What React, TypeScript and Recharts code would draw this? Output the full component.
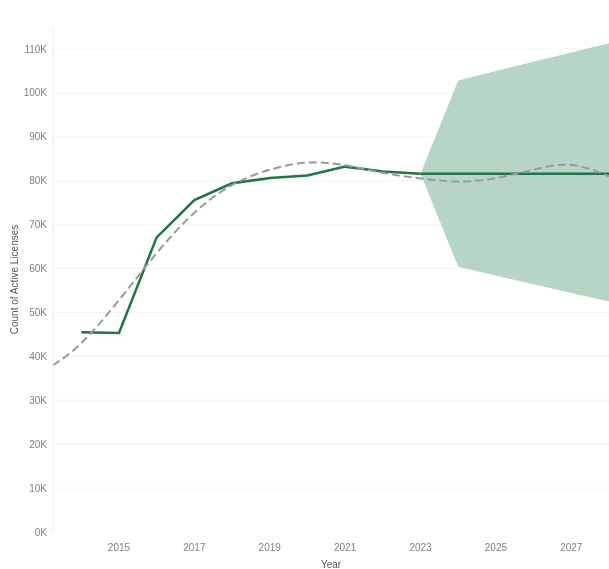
import { ComposedChart, Line, Area, XAxis, YAxis, CartesianGrid } from 'recharts';

// values in thousands of active licences
const historyYears = [2014, 2015, 2016, 2017, 2018, 2019, 2020, 2021, 2022, 2023];
const historyValues = [45.5, 45.3, 67.1, 75.6, 79.4, 80.6, 81.2, 83.2, 82.1, 81.6];

const forecastYears = [2023, 2024, 2025, 2026, 2027, 2028];
const forecastValues = [81.6, 81.6, 81.6, 81.6, 81.6, 81.6];
const forecastLow = [81.6, 60.4, 58.4, 56.4, 54.4, 52.5];
const forecastHigh = [81.6, 102.8, 105.0, 107.1, 109.2, 111.3];

const trendYears = [2013.25, 2014, 2015, 2016, 2017, 2018, 2019, 2020, 2021, 2022, 2023, 2024, 2025, 2026, 2027, 2028];
const trendValues = [38.0, 43.0, 52.8, 63.5, 72.7, 79.0, 82.5, 84.1, 83.5, 81.8, 80.5, 79.8, 80.6, 82.5, 83.6, 81.0];

const yearTicks = [2015, 2017, 2019, 2021, 2023, 2025, 2027];
const valueTicks = [0, 10, 20, 30, 40, 50, 60, 70, 80, 90, 100, 110];

const FONT = '"Liberation Sans", Arial, sans-serif';
const GREEN = '#1f7548';

type Row = { year: number; actual?: number; forecast?: number; band?: [number, number]; trend?: number };

const buildRows = (): Row[] => {
  const byYear = new Map<number, Row>();
  const row = (y: number) => {
    if (!byYear.has(y)) byYear.set(y, { year: y });
    return byYear.get(y)!;
  };
  trendYears.forEach((y, i) => { row(y).trend = trendValues[i]; });
  historyYears.forEach((y, i) => { row(y).actual = historyValues[i]; });
  forecastYears.forEach((y, i) => {
    const r = row(y);
    r.forecast = forecastValues[i];
    r.band = [forecastLow[i], forecastHigh[i]];
  });
  return Array.from(byYear.values()).sort((a, b) => a.year - b.year);
};

const rows = buildRows();

export default function App() {
  // fixed so the chart can run flush to the window edges without scrollbars
  return (
    <div style={{ position: 'fixed', left: 8, top: 8, width: 601, height: 561 }}>
      <ComposedChart width={601} height={561} data={rows} margin={{ top: 19, right: 0, bottom: 0, left: 0 }}>
        <CartesianGrid vertical={false} horizontalValues={valueTicks.slice(1)} stroke="#f4f4f4" />
        <XAxis
          dataKey="year"
          type="number"
          domain={[2013.25, 2028]}
          ticks={yearTicks}
          allowDataOverflow
          axisLine={false}
          tickLine={false}
          tickSize={0}
          tickMargin={12}
          height={37}
          tick={{ fill: '#7f7f7f', fontSize: 10, fontFamily: FONT }}
          label={{ value: 'Year', position: 'insideBottom', offset: 1, fill: '#595959', fontSize: 10, fontFamily: FONT }}
        />
        <YAxis
          type="number"
          domain={[0, 115]}
          ticks={valueTicks}
          tickFormatter={(v: number) => `${v}K`}
          width={45}
          axisLine={{ stroke: '#eeeeee' }}
          tickLine={false}
          tickSize={0}
          tickMargin={6}
          tick={{ fill: '#7f7f7f', fontSize: 10, fontFamily: FONT }}
          label={{
            value: 'Count of Active Licenses',
            angle: -90,
            position: 'insideLeft',
            offset: 6,
            fill: '#595959',
            fontSize: 10,
            fontFamily: FONT,
            style: { textAnchor: 'middle' },
          }}
        />
        <Area dataKey="band" type="linear" stroke="none" fill="#b7d5c5" fillOpacity={1} isAnimationActive={false} />
        <Line dataKey="actual" type="linear" stroke={GREEN} strokeWidth={2.5} dot={false} isAnimationActive={false} />
        <Line dataKey="forecast" type="linear" stroke={GREEN} strokeWidth={2.5} dot={false} isAnimationActive={false} />
        <Line
          dataKey="trend"
          type="natural"
          stroke="#9a9a9a"
          strokeWidth={2}
          strokeDasharray="8 4"
          dot={false}
          isAnimationActive={false}
        />
      </ComposedChart>
    </div>
  );
}
